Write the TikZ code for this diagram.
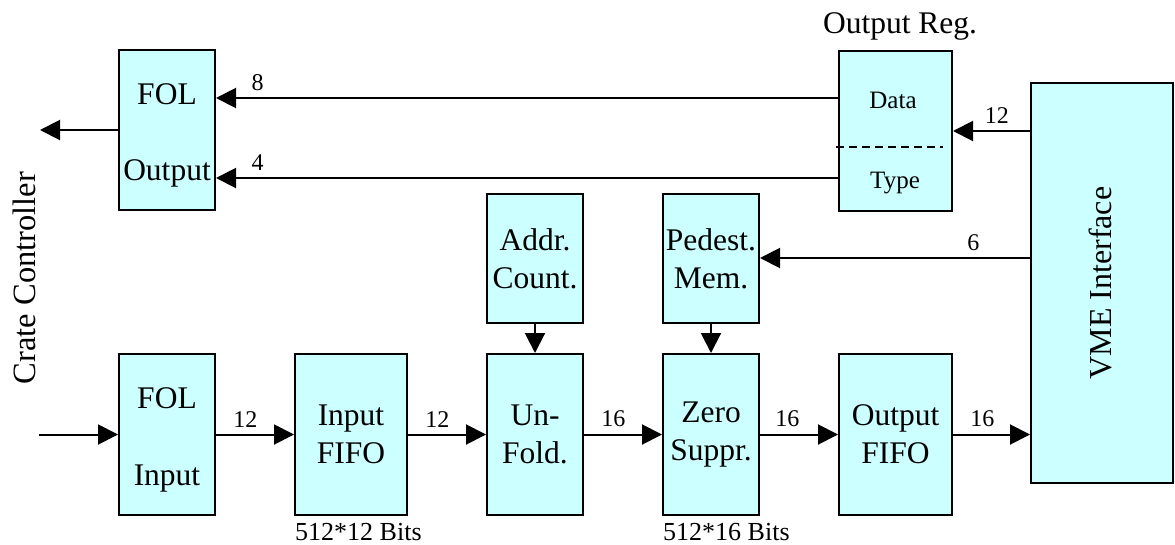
\documentclass[tikz,border=0pt]{standalone}
\usepackage{fontspec}
\setmainfont{Liberation Serif}
\usetikzlibrary{arrows.meta}
\definecolor{boxcyan}{HTML}{CCFFFF}
\begin{document}
\begin{tikzpicture}[x=1pt,y=-1pt,
  blk/.style={draw, line width=2pt, fill=boxcyan, inner sep=0pt, align=center,
    minimum width=96pt, minimum height=161pt, font=\fontsize{31.5}{38}\selectfont},
  txt/.style={inner sep=0pt, anchor=base, font=\fontsize{31.5}{38}\selectfont},
  small/.style={inner sep=0pt, anchor=base, font=\fontsize{25}{28}\selectfont},
  side/.style={inner sep=0pt, rotate=90, font=\fontsize{32.5}{36}\selectfont},
  note/.style={inner sep=0pt, anchor=base west, font=\fontsize{26}{28}\selectfont},
  arr/.style={line width=2pt, -{Triangle[length=20pt,width=20pt]}},
  lbl/.style={inner sep=0pt, above=6.5pt, font=\fontsize{24}{26}\selectfont},
  divider/.style={line width=1.6pt, dash pattern=on 8pt off 5pt}
]
\useasboundingbox (0,0) rectangle (1175,544);

% upper blocks
\node[blk, minimum height=160pt] (folout) at (167,130) {};
\node[txt] (folouta) at (167,104) {FOL};
\node[txt] (foloutb) at (167,180) {Output};

\node[blk, minimum width=113pt, minimum height=160pt] (outreg) at (895.5,131) {};
\node[small] (regdata) at (893,108) {Data};
\node[small] (regtype) at (895,188) {Type};
\node[txt] (regtitle) at (900,33) {Output Reg.};
\draw[divider] (836,147) -- (943,147);

\node[blk, minimum width=142pt, minimum height=400pt] (vme) at (1102,283) {};
\node[side, font=\fontsize{32}{36}\selectfont] (vmetext) at (1100,283) {VME Interface};

\node[blk, minimum height=129pt] (addr) at (535,258.5) {Addr.\\Count.};
\node[blk, minimum height=129pt] (pedest) at (711,258.5) {Pedest.\\Mem.};

% lower chain
\node[blk] (folin) at (167,434.5) {};
\node[txt] (folina) at (167,408) {FOL};
\node[txt] (folinb) at (167,485) {Input};
\node[blk, minimum width=112pt] (infifo) at (351,434.5) {Input\\FIFO};
\node[blk] (unfold) at (535,434.5) {Un-\\Fold.};
\node[blk] (zero) at (711,434.5) {Zero\\Suppr.};
\node[blk, minimum width=113pt] (outfifo) at (895.5,434.5) {Output\\FIFO};

\node[note] (infifosize) at (295,540) {512*12 Bits};
\node[note] (zerosize) at (663,540) {512*16 Bits};

\node[side] (crate) at (24,278) {Crate Controller};

% helper points
\coordinate (ccout) at (40,130);
\coordinate (ccin) at (39,434.5);
\coordinate (r8) at (0,98);
\coordinate (r4) at (0,178);
\coordinate (r12) at (0,131);
\coordinate (r6) at (0,258);

% connectors
\draw[arr] (folout.west) -- (ccout);
\draw[arr] (outreg.west |- r8) -- node[lbl, pos=0.933] {8} (folout.east |- r8);
\draw[arr] (outreg.west |- r4) -- node[lbl, pos=0.933] {4} (folout.east |- r4);
\draw[arr] (vme.west |- r12) -- node[lbl, pos=0.43] {12} (outreg.east |- r12);
\draw[arr] (vme.west |- r6) -- node[lbl, pos=0.21] {6} (pedest.east |- r6);

\draw[arr] (addr.south) -- (unfold.north);
\draw[arr] (pedest.south) -- (zero.north);

\draw[arr] (ccin) -- (folin.west);
\draw[arr] (folin.east) -- node[lbl, pos=0.375] {12} (infifo.west);
\draw[arr] (infifo.east) -- node[lbl, pos=0.375] {12} (unfold.west);
\draw[arr] (unfold.east) -- node[lbl, pos=0.375] {16} (zero.west);
\draw[arr] (zero.east) -- node[lbl, pos=0.35] {16} (outfifo.west);
\draw[arr] (outfifo.east) -- node[lbl, pos=0.38] {16} (vme.west |- outfifo.east);
\end{tikzpicture}
\end{document}
